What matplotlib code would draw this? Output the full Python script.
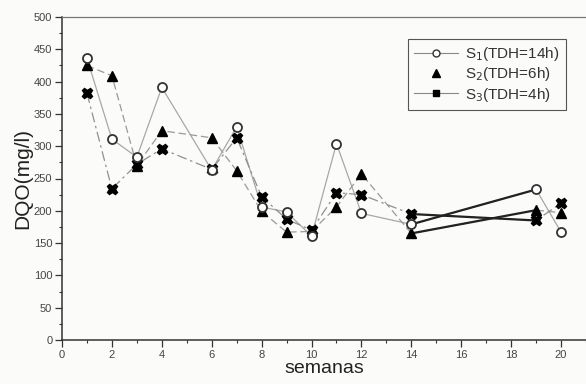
import matplotlib.pyplot as plt
from matplotlib.lines import Line2D
from matplotlib.ticker import MultipleLocator

# DQO por semana para os tres sistemas
semanas = [1, 2, 3, 4, 6, 7, 8, 9, 10, 11, 12, 14, 19, 20]
s1 = [436, 311, 283, 391, 263, 330, 206, 198, 161, 304, 196, 179, 233, 167]
s2 = [425, 409, 270, 324, 313, 262, 199, 167, 168, 206, 257, 165, 201, 197]
s3 = [382, 234, 272, 296, 264, 313, 222, 187, 170, 228, 225, 195, 185, 212]
rotulos = ['S$_1$(TDH=14h)', 'S$_2$(TDH=6h)', 'S$_3$(TDH=4h)']

plt.rcParams['font.family'] = ['Liberation Sans', 'DejaVu Sans']

fig = plt.figure(figsize=(5.86, 3.84), dpi=100)
fig.patch.set_facecolor('#fbfbf9')
ax = fig.add_axes([62 / 586, 1 - 340 / 384, 1 - 62 / 586, (340 - 17) / 384])
ax.set_facecolor('#fbfbf9')

estilos = ['-', (0, (6, 3)), (0, (8, 3, 2, 3))]
cinzas = ['#a8a8a8', '#9a9a9a', '#909090']
for serie, ls, cor in zip([s1, s2, s3], estilos, cinzas):
    ax.plot(semanas, serie, ls=ls, color=cor, lw=0.9, zorder=2)
    # trecho entre as semanas 14 e 19 em traco forte
    i = semanas.index(14)
    ax.plot(semanas[i:i + 2], serie[i:i + 2], color='#222222', lw=1.6, zorder=3)

ax.plot(semanas, s1, 'o', ms=6.5, mfc='white', mec='#333333', mew=1.3, zorder=5)
ax.plot(semanas, s2, '^', ms=7, color='black', zorder=4)
ax.plot(semanas, s3, 'X', ms=7.5, color='black', mec='black', zorder=4)

ax.set_xlim(0, 21)
ax.set_ylim(0, 500)
ax.xaxis.set_major_locator(MultipleLocator(2))
ax.xaxis.set_minor_locator(MultipleLocator(1))
ax.yaxis.set_major_locator(MultipleLocator(50))
ax.yaxis.set_minor_locator(MultipleLocator(25))
ax.tick_params(which='major', direction='out', length=5, width=0.9, color='#333333',
               labelsize=8, labelcolor='#444444', pad=2)
ax.tick_params(which='minor', direction='out', length=2.5, width=0.8, color='#333333')

for lado in ['left', 'bottom']:
    ax.spines[lado].set_color('#333333')
    ax.spines[lado].set_linewidth(1.1)
ax.spines['top'].set_color('#777777')
ax.spines['top'].set_linewidth(0.9)
ax.spines['right'].set_visible(False)

ax.set_xlabel('semanas', fontsize=14, color='#222222', labelpad=0)
ax.set_ylabel('DQO(mg/l)', fontsize=15, color='#222222', labelpad=1)

alcas = [
    Line2D([], [], color='#888888', lw=0.8, marker='o', ms=5, mfc='white', mec='#333333'),
    Line2D([], [], ls='none', marker='^', ms=6, color='black'),
    Line2D([], [], color='#888888', lw=0.8, marker='s', ms=4.5, mfc='black', mec='black'),
]
leg = fig.legend(alcas, rotulos, loc='upper left', bbox_to_anchor=(408 / 586, 1 - 39 / 384),
                 borderaxespad=0, fontsize=11, frameon=True, fancybox=False, framealpha=1,
                 handlelength=2.9, handletextpad=0.45, borderpad=0.4, labelspacing=0.15)
leg.get_frame().set_edgecolor('#555555')
leg.get_frame().set_linewidth(0.8)
leg.get_frame().set_facecolor('#fbfbf9')
for t in leg.get_texts():
    t.set_color('#333333')

fig.savefig('out.png', dpi=100, facecolor=fig.get_facecolor())
